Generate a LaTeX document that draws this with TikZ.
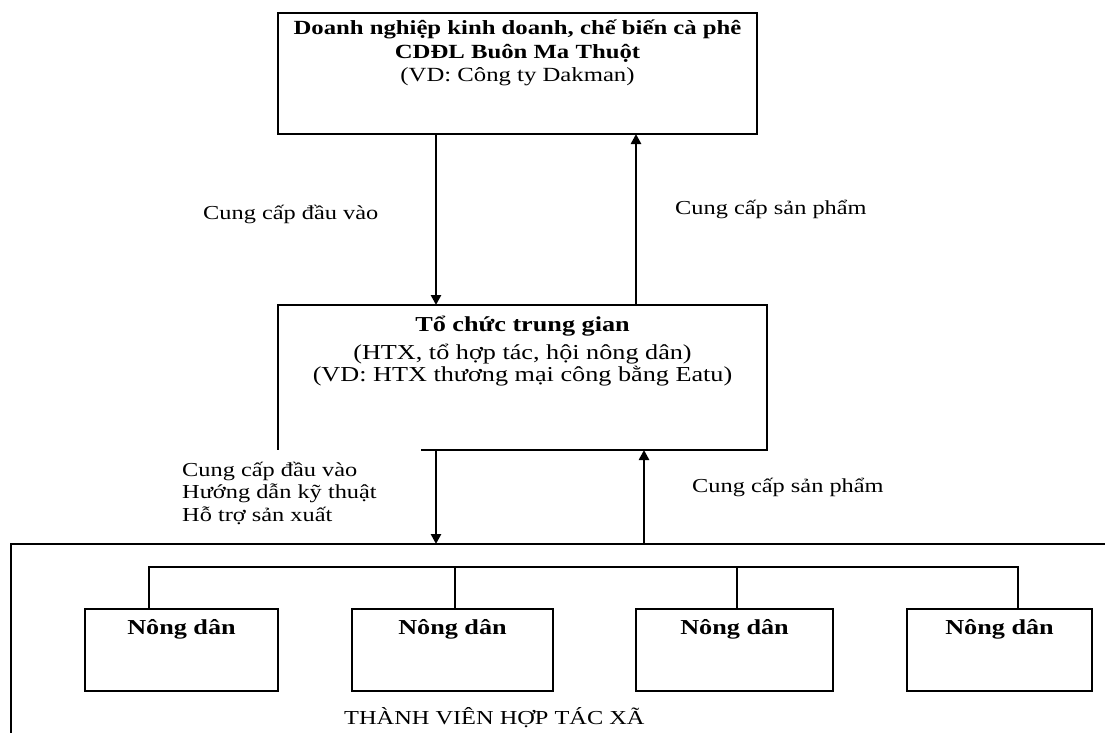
\documentclass[tikz,border=0pt]{standalone}
\usepackage{fontspec}
\setmainfont{Liberation Serif}[FakeStretch=1.23]
\usetikzlibrary{arrows.meta,calc}
\begin{document}
\begin{tikzpicture}[x=1pt,y=-1pt,
  boxline/.style={line width=1.8pt},
  thinline/.style={line width=1.5pt},
  flow/.style={line width=2.8pt,-{Triangle[length=10pt,width=10pt]}},
  frame/.style={draw,boxline,inner sep=0pt,outer sep=0pt},
  lbl/.style={font=\fontsize{19.8}{22.3}\selectfont,inner sep=0pt,anchor=west},
  farmtxt/.style={font=\fontsize{21.3}{24}\selectfont\bfseries,inner sep=0pt}]
\useasboundingbox (0,0) rectangle (1105,733);
\fill[white] (0,0) rectangle (1105,733);

% top box
\node[frame,minimum width=479pt,minimum height=121pt] (top) at (517.5,73.5) {};
\node[inner sep=0pt,anchor=north,align=center,font=\fontsize{20.1}{23.5}\selectfont] (toptxt) at ($(top.north)+(0,7)$)
  {\textbf{Doanh nghiệp kinh doanh, chế biến cà phê}\\ \textbf{CDĐL Buôn Ma Thuột}\\ (VD: Công ty Dakman)};

% middle box
\node[inner sep=0pt,outer sep=0pt,minimum width=489pt,minimum height=145pt] (mid) at (522.5,377.5) {};
\coordinate (gap) at (421,0);
\draw[boxline] (gap |- mid.south) -- (mid.south east) -- (mid.north east) -- (mid.north west) -- (mid.south west);
\node[inner sep=0pt,anchor=north,align=center,font=\fontsize{21.3}{22}\selectfont] (midtxt) at ($(mid.north)+(0,11)$)
  {\textbf{Tổ chức trung gian}\\[6pt] (HTX, tổ hợp tác, hội nông dân)\\ (VD: HTX thương mại công bằng Eatu)};

% arrows between top and middle
\coordinate (xa) at (436,0);
\coordinate (xb) at (636,0);
\draw[flow] (xa |- top.south) -- (xa |- mid.north);
\draw[flow] (xb |- mid.north) -- (xb |- top.south);
\node[lbl] (l1) at (203,214) {Cung cấp đầu vào};
\node[lbl] (l2) at (675,209) {Cung cấp sản phẩm};

% members container
\coordinate (cTL) at (11,544);
\coordinate (cTR) at (1106,544);
\coordinate (cBL) at (11,734);
\draw[boxline] (cTR) -- (cTL) -- (cBL);

% arrows between middle and members
\coordinate (xc) at (436,0);
\coordinate (xd) at (644,0);
\draw[flow] (xc |- mid.south) -- (xc |- cTL);
\draw[flow] (xd |- cTL) -- (xd |- mid.south);
\node[lbl,anchor=north west,align=left] (l3) at (182,462) {Cung cấp đầu vào\\ Hướng dẫn kỹ thuật\\ Hỗ trợ sản xuất};
\node[lbl] (l4) at (692,487) {Cung cấp sản phẩm};

% farmers
\node[frame,minimum width=193pt,minimum height=82pt] (f1) at (181.5,650) {};
\node[frame,minimum width=201pt,minimum height=82pt] (f2) at (452.5,650) {};
\node[frame,minimum width=197pt,minimum height=82pt] (f3) at (734.5,650) {};
\node[frame,minimum width=185pt,minimum height=82pt] (f4) at (999.5,650) {};
\foreach \i in {1,2,3,4}{
  \node[farmtxt] (t\i) at ($(f\i.north)+(0,20)$) {Nông dân};
}

% bus
\coordinate (bus) at (0,567);
\coordinate (d1) at (149,0);
\coordinate (d2) at (455,0);
\coordinate (d3) at (737,0);
\coordinate (d4) at (1018,0);
\draw[thinline] (d1 |- f1.north) -- (d1 |- bus) -- (d4 |- bus) -- (d4 |- f4.north);
\draw[thinline] (d2 |- bus) -- (d2 |- f2.north);
\draw[thinline] (d3 |- bus) -- (d3 |- f3.north);

\node[lbl] (l5) at (344,718) {THÀNH VIÊN HỢP TÁC XÃ};
\end{tikzpicture}
\end{document}
